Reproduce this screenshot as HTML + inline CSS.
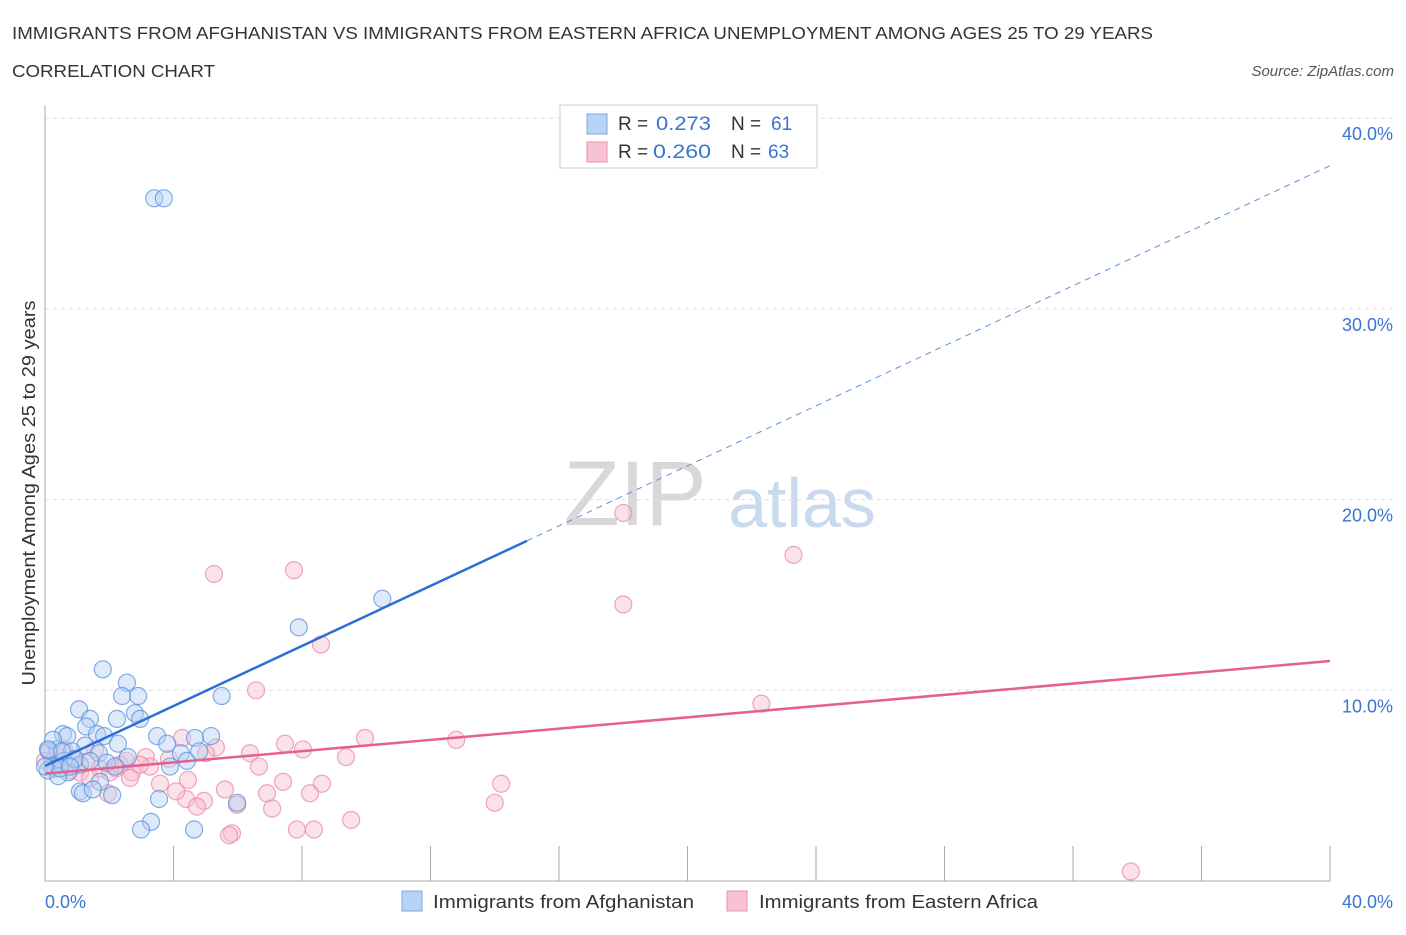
<!DOCTYPE html>
<html><head><meta charset="utf-8"><style>
body{margin:0;background:#fff;font-family:"Liberation Sans",sans-serif;}
svg text{font-family:"Liberation Sans",sans-serif;}
</style></head><body>
<svg width="1406" height="930">
<text x="12" y="39" font-size="17.5" fill="#333" textLength="1141" lengthAdjust="spacingAndGlyphs">IMMIGRANTS FROM AFGHANISTAN VS IMMIGRANTS FROM EASTERN AFRICA UNEMPLOYMENT AMONG AGES 25 TO 29 YEARS</text>
<text x="12" y="77" font-size="17.5" fill="#333" textLength="203" lengthAdjust="spacingAndGlyphs">CORRELATION CHART</text>
<text x="1394" y="76" font-size="15" font-style="italic" fill="#555" text-anchor="end">Source: ZipAtlas.com</text>
<text x="635" y="525" font-size="92" fill="#d8d8d8" font-family="Liberation Serif" text-anchor="middle">ZIP</text>
<text x="802" y="527" font-size="70" fill="#c9d9ee" text-anchor="middle">atlas</text>
<g id="grid"></g>
<g id="axes"></g>
<g id="pts"></g>
<g id="lines"></g>
<text x="35" y="493" font-size="18" fill="#333" text-anchor="middle" textLength="385" lengthAdjust="spacingAndGlyphs" transform="rotate(-90 35 493)">Unemployment Among Ages 25 to 29 years</text>
<text x="45" y="908" font-size="18" fill="#3a74d0">0.0%</text>
<text x="1393" y="908" font-size="18" fill="#3a74d0" text-anchor="end">40.0%</text>
<g>
<rect x="560" y="105" width="257" height="63" fill="#fff" stroke="#ccc"/>
<rect x="587" y="114" width="20" height="20" fill="#b8d3f5" stroke="#7ea8e0"/>
<rect x="587" y="142" width="20" height="20" fill="#f7c3d2" stroke="#e892ad"/>
<text x="618" y="130" font-size="19" fill="#333">R =</text>
<text x="656" y="130" font-size="19" fill="#3a74d0" textLength="55" lengthAdjust="spacingAndGlyphs">0.273</text>
<text x="731" y="130" font-size="19" fill="#333">N =</text>
<text x="771" y="130" font-size="19" fill="#3a74d0">61</text>
<text x="618" y="158" font-size="19" fill="#333">R =</text>
<text x="653" y="158" font-size="19" fill="#3a74d0" textLength="58" lengthAdjust="spacingAndGlyphs">0.260</text>
<text x="731" y="158" font-size="19" fill="#333">N =</text>
<text x="768" y="158" font-size="19" fill="#3a74d0">63</text>
</g>
<g>
<rect x="402" y="891" width="20" height="20" fill="#b8d3f5" stroke="#7ea8e0"/>
<text x="433" y="908" font-size="18" fill="#333" textLength="261" lengthAdjust="spacingAndGlyphs">Immigrants from Afghanistan</text>
<rect x="727" y="891" width="20" height="20" fill="#f7c3d2" stroke="#e892ad"/>
<text x="759" y="908" font-size="18" fill="#333" textLength="279" lengthAdjust="spacingAndGlyphs">Immigrants from Eastern Africa</text>
</g>
</svg>
<script>
const yTicks=[10,20,30,40];
const yTickLabels=["10.0%","20.0%","30.0%","40.0%"];
const blueX=[3.4,3.7,10.5,7.9,1.8,2.55,2.4,2.9,5.5,1.06,2.8,2.96,1.4,2.24,1.28,0.56,0.69,1.62,1.84,3.49,4.67,5.17,2.27,3.8,1.25,0.37,0.12,0.84,1.68,2.58,4.23,4.42,0.59,1.93,1.09,0.22,0.31,3.89,0.72,0.09,0.41,1.71,1.09,1.18,1.49,2.09,3.55,5.98,3.3,2.99,4.64,0.93,0.47,1.4,0.0,0.25,2.18,0.1,4.8,0.53,0.78];
const blueY=[35.8,35.8,14.8,13.3,11.1,10.4,9.7,9.7,9.7,9.0,8.8,8.5,8.5,8.5,8.1,7.7,7.6,7.7,7.6,7.6,7.5,7.6,7.2,7.2,7.1,6.9,6.8,6.8,6.7,6.5,6.7,6.3,6.3,6.2,6.1,6.0,5.9,6.0,5.7,5.8,5.5,5.2,4.7,4.6,4.8,4.5,4.3,4.1,3.1,2.7,2.7,6.4,5.9,6.3,6.0,7.4,6.0,6.9,6.8,6.8,6.0];
const pinkX=[18.0,23.3,5.26,7.75,18.0,8.59,6.57,22.3,4.27,9.96,7.47,12.8,5.32,8.03,6.38,3.14,5.01,9.37,3.86,2.52,3.27,2.21,6.66,2.71,4.45,7.41,8.62,14.2,5.6,6.91,8.25,4.39,4.95,4.73,5.98,7.07,14.0,9.53,5.82,5.73,7.84,8.37,33.8,0.09,0.22,0.47,0.78,1.09,1.4,1.71,2.02,2.65,3.58,0.34,0.59,0.93,1.56,2.96,1.96,4.08,0.0,1.28,2.33];
const pinkY=[19.3,17.1,16.1,16.3,14.5,12.4,10.0,9.3,7.5,7.5,7.2,7.4,7.0,6.9,6.7,6.5,6.7,6.5,6.4,6.3,6.0,5.9,6.0,5.7,5.3,5.2,5.1,5.1,4.8,4.6,4.6,4.3,4.2,3.9,4.0,3.8,4.1,3.2,2.5,2.4,2.7,2.7,0.5,6.9,6.3,6.1,5.8,5.7,5.4,5.9,5.7,5.4,5.1,6.6,6.9,6.4,6.9,6.1,4.6,4.7,6.3,6.2,6.1];
const blueTrend=[6.03,0.787,15.0];
const pinkTrend=[5.63,0.1476];
const NS="http://www.w3.org/2000/svg";
const X=v=>45+v*32.125, Y=v=>881-v*19.07;
function mk(t,a,p){const e=document.createElementNS(NS,t);for(const k in a)e.setAttribute(k,a[k]);document.getElementById(p).appendChild(e);return e;}
yTicks.forEach((t,i)=>{
 const g=mk('line',{x1:45,x2:1393,y1:Y(t),y2:Y(t),stroke:'#ddd','stroke-dasharray':'4,4'},'grid');
 
 
 const tx=mk('text',{x:1393,y:Y(t)+22,'font-size':18,fill:'#3a74d0','text-anchor':'end'},'grid');
 tx.textContent=yTickLabels[i];
 
 
});
const ax=mk('line',{x1:45,x2:1330,y1:881,y2:881,stroke:'#aaa'},'axes');


const ay=mk('line',{x1:45,x2:45,y1:105,y2:881,stroke:'#aaa'},'axes');


for(let i=0;i<=10;i++){const t=mk('line',{x1:X(i*4),x2:X(i*4),y1:i==0?881:846,y2:881,stroke:'#aaa'},'axes');
 
 }
function pts(xs,ys,f,s,n){xs.forEach((x,i)=>{const c=mk('circle',{cx:X(x),cy:Y(ys[i]),r:8.5,fill:f,'fill-opacity':0.45,stroke:s,'stroke-opacity':0.75,'stroke-width':1.2},'pts');
 
 });}
pts(pinkX,pinkY,'#f7bccd','#e88aa8','point-eastern-africa');
pts(blueX,blueY,'#b5d0f3','#5b91db','point-afghanistan');
const b1=mk('line',{x1:X(0),y1:Y(blueTrend[0]),x2:X(blueTrend[2]),y2:Y(blueTrend[0]+blueTrend[1]*blueTrend[2]),stroke:'#2a6fd6','stroke-width':2.5},'lines');


const b2=mk('line',{x1:X(blueTrend[2]),y1:Y(blueTrend[0]+blueTrend[1]*blueTrend[2]),x2:X(40),y2:Y(blueTrend[0]+blueTrend[1]*40),stroke:'#5b91db','stroke-width':1,'stroke-dasharray':'6,5'},'lines');


const p1=mk('line',{x1:X(0),y1:Y(pinkTrend[0]),x2:X(40),y2:Y(pinkTrend[0]+pinkTrend[1]*40),stroke:'#e4608e','stroke-width':2.5},'lines');


</script>
</body></html>
